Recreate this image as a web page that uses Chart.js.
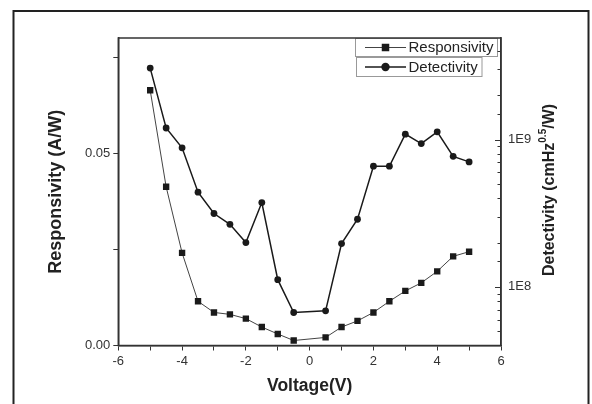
<!DOCTYPE html>
<html lang="en">
<head>
    <meta charset="UTF-8">
    <title>Responsivity and Detectivity</title>
    <script src="https://cdn.jsdelivr.net/npm/chart.js"></script>
    <style>
        body {
            margin: 0;
            padding: 0;
            background-color: #fff;
        }
        .chart-box {
            width: 592px;
            height: 404px;
            position: relative;
        }
    </style>
</head>
<body>
    <div class="chart-box">
        <canvas id="photoChart" width="592" height="404"></canvas>
    </div>
    <script>
        // values
        const voltage = [-5, -4.5, -4, -3.5, -3, -2.5, -2, -1.5, -1, -0.5, 0.5, 1, 1.5, 2, 2.5, 3, 3.5, 4, 4.5, 5];
        const responsivity = [0.0664, 0.0413, 0.0241, 0.0115, 0.0086, 0.0081, 0.0070, 0.0048, 0.0030, 0.0013,
                              0.0021, 0.0048, 0.0064, 0.0086, 0.0115, 0.0142, 0.0163, 0.0193, 0.0232, 0.0244];
        const detectivity = [3.06e9, 1.20e9, 8.8e8, 4.4e8, 3.15e8, 2.66e8, 2.0e8, 3.74e8, 1.12e8, 6.7e7,
                             6.88e7, 1.97e8, 2.88e8, 6.6e8, 6.6e8, 1.09e9, 9.4e8, 1.13e9, 7.7e8, 7.06e8];
        const seriesNames = ['Responsivity', 'Detectivity'];
        const xTickLabels = ['-6', '-4', '-2', '0', '2', '4', '6'];

        const font = "'Liberation Sans', Arial, sans-serif";
        const axisColor = '#333';

        // outer frame, plot box, inward ticks on the right axis
        const framePlugin = {
            id: 'framePlugin',
            beforeDraw(chart) {
                const ctx = chart.ctx;
                ctx.save();
                ctx.fillStyle = '#fff';
                ctx.fillRect(0, 0, chart.width, chart.height);
                ctx.strokeStyle = '#222';
                ctx.lineWidth = 2;
                ctx.strokeRect(13.5, 11, 575, 420);
                ctx.restore();
            },
            afterDraw(chart) {
                const ctx = chart.ctx;
                const a = chart.chartArea;
                ctx.save();
                ctx.strokeStyle = axisColor;
                ctx.lineWidth = 1.5;
                ctx.strokeRect(a.left, a.top, a.right - a.left, a.bottom - a.top);

                const s = chart.scales.y2;
                ctx.lineWidth = 1;
                s.ticks.forEach(t => {
                    const lg = Math.log10(t.value);
                    const major = Math.abs(lg - Math.round(lg)) < 1e-6;
                    if (t.value <= s.min || t.value >= s.max) return;
                    const y = Math.round(s.getPixelForValue(t.value)) + 0.5;
                    ctx.beginPath();
                    ctx.moveTo(a.right, y);
                    ctx.lineTo(a.right - (major ? 6 : 3.5), y);
                    ctx.stroke();
                });

                // right axis title with superscript
                ctx.translate(550, 190);
                ctx.rotate(-Math.PI / 2);
                ctx.fillStyle = '#222';
                ctx.textBaseline = 'middle';
                const big = 'bold 16px ' + font;
                const small = 'bold 10px ' + font;
                const p1 = 'Detectivity (cmHz', p2 = '0.5', p3 = '/W)';
                ctx.font = big;
                const w1 = ctx.measureText(p1).width, w3 = ctx.measureText(p3).width;
                ctx.font = small;
                const w2 = ctx.measureText(p2).width;
                let x = -(w1 + w2 + w3) / 2;
                ctx.font = big;
                ctx.fillText(p1, x, 0);
                x += w1;
                ctx.font = small;
                ctx.fillText(p2, x, -7);
                x += w2;
                ctx.font = big;
                ctx.fillText(p3, x, 0);
                ctx.restore();
            }
        };

        // two stacked legend boxes in the top-right corner
        const legendPlugin = {
            id: 'legendPlugin',
            afterDatasetsDraw(chart) {
                const ctx = chart.ctx;
                const boxes = [
                    {x: 355.5, y: 38.5, w: 142, h: 18},
                    {x: 356.5, y: 57.5, w: 125.5, h: 19}
                ];
                ctx.save();
                chart.data.datasets.forEach((ds, i) => {
                    const b = boxes[i];
                    ctx.fillStyle = '#fff';
                    ctx.fillRect(b.x, b.y, b.w, b.h);
                    ctx.strokeStyle = '#999';
                    ctx.lineWidth = 1;
                    ctx.strokeRect(b.x, b.y, b.w, b.h);
                    const cy = b.y + b.h / 2;
                    ctx.strokeStyle = ds.borderColor;
                    ctx.lineWidth = ds.borderWidth;
                    ctx.beginPath();
                    ctx.moveTo(365, cy);
                    ctx.lineTo(406, cy);
                    ctx.stroke();
                    ctx.fillStyle = ds.backgroundColor;
                    Chart.helpers.drawPoint(ctx, {
                        pointStyle: ds.pointStyle,
                        radius: ds.pointRadius + 0.8,
                        borderWidth: 0
                    }, 385.5, cy);
                    ctx.fillStyle = '#222';
                    ctx.font = '15px ' + font;
                    ctx.textBaseline = 'middle';
                    ctx.fillText(ds.label, 408.5, cy + 0.5);
                });
                ctx.restore();
            }
        };

        const ctx = document.getElementById('photoChart').getContext('2d');

        new Chart(ctx, {
            type: 'line',
            data: {
                datasets: [{
                    label: seriesNames[0],
                    data: voltage.map((v, i) => ({x: v, y: responsivity[i]})),
                    yAxisID: 'y',
                    borderColor: '#444',
                    borderWidth: 1,
                    backgroundColor: '#1a1a1a',
                    pointStyle: 'rect',
                    pointRadius: 4.5,
                    pointBorderWidth: 0,
                    tension: 0
                }, {
                    label: seriesNames[1],
                    data: voltage.map((v, i) => ({x: v, y: detectivity[i]})),
                    yAxisID: 'y2',
                    borderColor: '#1a1a1a',
                    borderWidth: 1.5,
                    backgroundColor: '#1a1a1a',
                    pointStyle: 'circle',
                    pointRadius: 3.4,
                    pointBorderWidth: 0,
                    tension: 0
                }]
            },
            options: {
                responsive: false,
                animation: false,
                layout: { padding: { top: 38, left: 0, right: 0, bottom: 0 } },
                plugins: {
                    legend: { display: false },
                    tooltip: { enabled: false }
                },
                scales: {
                    x: {
                        type: 'linear',
                        min: -6,
                        max: 6,
                        afterFit: s => { s.height = 58.5; },
                        border: { color: axisColor, width: 1.5 },
                        grid: { drawOnChartArea: false, color: axisColor, tickLength: 5 },
                        ticks: {
                            stepSize: 1,
                            autoSkip: false,
                            maxRotation: 0,
                            padding: 3,
                            color: '#333',
                            font: { family: font, size: 13 },
                            callback: v => {
                                const lbl = String(v);
                                return xTickLabels.includes(lbl) ? lbl : '';
                            }
                        },
                        title: {
                            display: true,
                            text: 'Voltage(V)',
                            color: '#222',
                            font: { family: font, size: 17.5, weight: 'bold' },
                            padding: { top: 0, bottom: 7 }
                        }
                    },
                    y: {
                        type: 'linear',
                        position: 'left',
                        min: 0,
                        max: 0.08,
                        afterFit: s => { s.width = 118.3; },
                        border: { color: axisColor, width: 1.5 },
                        grid: { drawOnChartArea: false, color: axisColor, tickLength: 5 },
                        ticks: {
                            stepSize: 0.025,
                            autoSkip: false,
                            padding: 3,
                            color: '#333',
                            font: { family: font, size: 13 },
                            callback: v => {
                                const k = v / 0.025;
                                if (Math.abs(k - Math.round(k)) > 1e-6) return null;
                                return Math.round(k) % 2 === 0 ? v.toFixed(2) : '';
                            }
                        },
                        title: {
                            display: true,
                            text: 'Responsivity (A/W)',
                            color: '#222',
                            font: { family: font, size: 18, weight: 'bold' },
                            padding: { top: 45, bottom: 0 }
                        }
                    },
                    y2: {
                        type: 'logarithmic',
                        position: 'right',
                        min: 4e7,
                        max: 4.9e9,
                        afterFit: s => { s.width = 91; },
                        border: { color: axisColor, width: 1.5 },
                        grid: { drawOnChartArea: false, drawTicks: false },
                        ticks: {
                            autoSkip: false,
                            padding: 7,
                            color: '#333',
                            font: { family: font, size: 13 },
                            callback: v => {
                                const lg = Math.log10(v);
                                if (Math.abs(lg - Math.round(lg)) < 1e-6) return '1E' + Math.round(lg);
                                return '';
                            }
                        }
                    }
                }
            },
            plugins: [framePlugin, legendPlugin]
        });
    </script>
</body>
</html>
